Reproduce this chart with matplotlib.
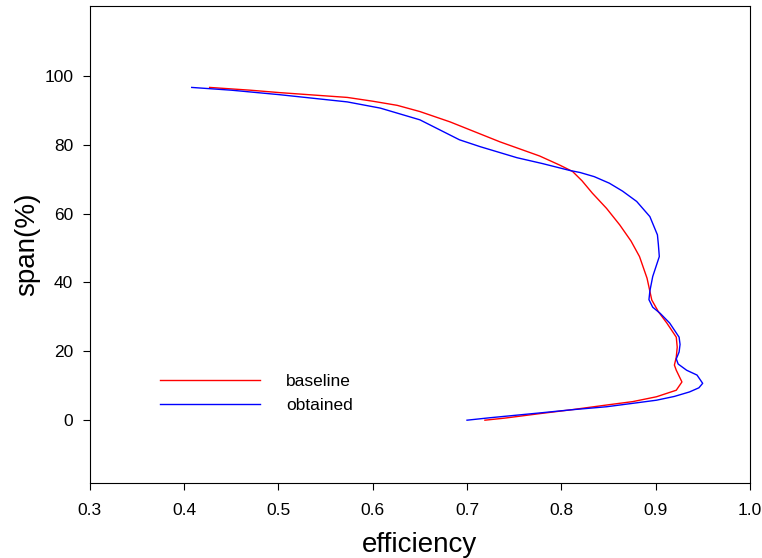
import numpy as np
import matplotlib.pyplot as plt

plt.rcParams['font.family'] = ['Liberation Sans', 'DejaVu Sans']

## 数据 (span 从叶根到叶尖)
base_eff = [0.719, 0.740, 0.777, 0.810, 0.848, 0.876, 0.901, 0.922, 0.928, 0.925,
            0.922, 0.920, 0.922, 0.923, 0.922, 0.912, 0.903, 0.896, 0.891, 0.883,
            0.874, 0.862, 0.848, 0.833, 0.822, 0.812, 0.798, 0.777, 0.735, 0.682,
            0.650, 0.626, 0.600, 0.573, 0.501, 0.470, 0.427]
base_span = [0.0, 0.6, 1.9, 3.0, 4.4, 5.4, 6.8, 8.7, 11.1, 12.8,
             14.5, 16.0, 18.3, 21.2, 24.1, 28.2, 31.5, 34.9, 41.2, 47.5,
             52.0, 56.7, 61.5, 65.9, 69.5, 72.2, 74.1, 76.7, 80.8, 86.6,
             89.6, 91.4, 92.6, 93.7, 95.1, 95.8, 96.6]

opt_eff = [0.700, 0.724, 0.777, 0.810, 0.848, 0.876, 0.901, 0.920, 0.936, 0.946,
           0.950, 0.944, 0.933, 0.924, 0.922, 0.925, 0.926, 0.925, 0.915, 0.905,
           0.897, 0.893, 0.894, 0.897, 0.904, 0.903, 0.902, 0.894, 0.880, 0.865,
           0.851, 0.835, 0.820, 0.809, 0.780, 0.753, 0.714, 0.692, 0.671, 0.650,
           0.608, 0.573, 0.501, 0.450, 0.408]
opt_span = [0.0, 0.7, 2.1, 3.0, 3.9, 4.9, 5.8, 6.9, 8.2, 9.4,
            10.7, 13.1, 14.5, 16.3, 17.8, 19.8, 22.0, 24.1, 28.2, 31.0,
            32.8, 35.0, 37.5, 41.7, 47.5, 51.0, 53.8, 59.1, 63.5, 66.5,
            68.8, 70.7, 71.9, 72.5, 74.5, 76.2, 79.4, 81.4, 84.3, 87.2,
            90.6, 92.4, 94.5, 95.8, 96.6]

fig = plt.figure(figsize=(7.62, 5.58), dpi=100)
ax = fig.add_axes([0.118, 0.134, 0.866, 0.855])

ax.plot(base_eff, base_span, color='red', lw=1.0, label='baseline')
ax.plot(opt_eff, opt_span, color='blue', lw=1.0, label='obtained')

ax.set_xlim(0.3, 1.0)
ax.set_ylim(-18.3, 120.2)
ax.set_xticks(np.arange(0.3, 1.01, 0.1))
ax.set_xticklabels(['0.3', '0.4', '0.5', '0.6', '0.7', '0.8', '0.9', '1.0'])
ax.set_yticks([0, 20, 40, 60, 80, 100])
ax.tick_params(direction='out', labelsize=12.5, length=5, top=False, right=False)
ax.tick_params(axis='x', pad=9)
ax.tick_params(axis='y', pad=7)

ax.set_xlabel('efficiency', fontsize=20, labelpad=10)
ax.set_ylabel('span(%)', fontsize=20, labelpad=3)

ax.legend(loc='upper left', bbox_to_anchor=(0.082, 0.262), frameon=False,
          fontsize=12.5, handlelength=5.8, handletextpad=1.5, labelspacing=0.5)

fig.savefig('out.png', dpi=100)
